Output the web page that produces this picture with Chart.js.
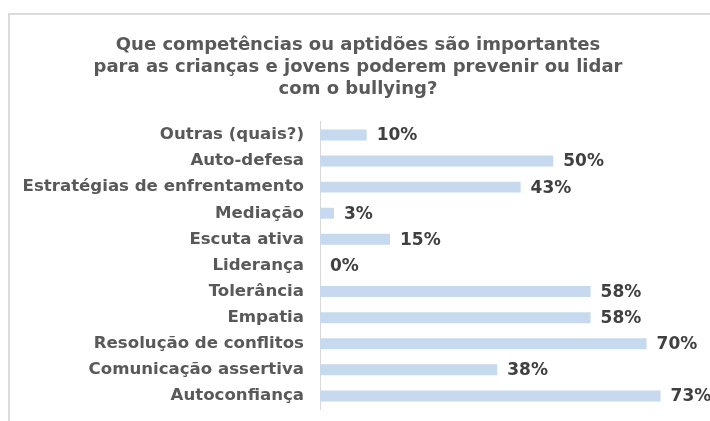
<!DOCTYPE html>
<html>
<head>
<meta charset="utf-8">
<title>Competências para prevenir o bullying</title>
<script src="https://cdn.jsdelivr.net/npm/chart.js"></script>
<style>
body {
  margin: 0;
  background: #ffffff;
  overflow: hidden;
}
.frame {
  position: absolute;
  left: 8px;
  top: 13px;
  width: 702px;
  height: 408px;
  border-left: 2px solid #dcdcdc;
  border-top: 2px solid #dcdcdc;
  box-sizing: border-box;
}
#grafico {
  position: absolute;
  left: 0;
  top: 0;
}
</style>
</head>
<body>

<div class="frame"></div>
<canvas id="grafico" width="710" height="421"></canvas>

<script>
// Respostas (percentagem) por competência
const competencias = [
  'Outras (quais?)',
  'Auto-defesa',
  'Estratégias de enfrentamento',
  'Mediação',
  'Escuta ativa',
  'Liderança',
  'Tolerância',
  'Empatia',
  'Resolução de conflitos',
  'Comunicação assertiva',
  'Autoconfiança'
];
const percentagens = [10, 50, 43, 3, 15, 0, 58, 58, 70, 38, 73];

const titulo = [
  'Que competências ou aptidões são importantes',
  'para as crianças e jovens poderem prevenir ou lidar',
  'com o bullying?'
];

const fonte = 'DejaVu Sans, Verdana, sans-serif';

// Escreve o valor à direita de cada barra
const rotulosValores = {
  id: 'rotulosValores',
  afterDatasetsDraw(chart) {
    const ctx = chart.ctx;
    const meta = chart.getDatasetMeta(0);
    ctx.save();
    ctx.font = 'bold 17px ' + fonte;
    ctx.fillStyle = '#404040';
    ctx.textAlign = 'left';
    ctx.textBaseline = 'middle';
    meta.data.forEach((bar, i) => {
      const v = chart.data.datasets[0].data[i];
      ctx.fillText(v + '%', bar.x + 10, bar.y + 1);
    });
    ctx.restore();
  }
};

new Chart(document.getElementById('grafico'), {
  type: 'bar',
  data: {
    labels: competencias,
    datasets: [{
      data: percentagens,
      backgroundColor: '#c6d9ee',
      borderWidth: 0,
      categoryPercentage: 1,
      barPercentage: 0.42
    }]
  },
  options: {
    indexAxis: 'y',
    responsive: false,
    animation: false,
    layout: {
      padding: { left: 6, right: 0, top: 0, bottom: 12 }
    },
    plugins: {
      legend: { display: false },
      tooltip: { enabled: false },
      title: {
        display: true,
        text: titulo,
        color: '#595959',
        font: { family: fonte, size: 18, weight: 'bold', lineHeight: 1.22 },
        padding: { top: 34, bottom: 22 }
      }
    },
    scales: {
      x: {
        display: false,
        min: 0,
        max: 83.6
      },
      y: {
        afterFit(scale) {
          // largura fixa para as etiquetas e sem folga extra em cima/baixo
          scale.width = 314;
          scale.paddingTop = 0;
          scale.paddingBottom = 0;
        },
        grid: { display: false },
        border: { display: true, color: '#d9d9d9', width: 1 },
        ticks: {
          color: '#595959',
          padding: 8,
          font: { family: fonte, size: 16.6, weight: 'bold' }
        }
      }
    }
  },
  plugins: [rotulosValores]
});
</script>

</body>
</html>
